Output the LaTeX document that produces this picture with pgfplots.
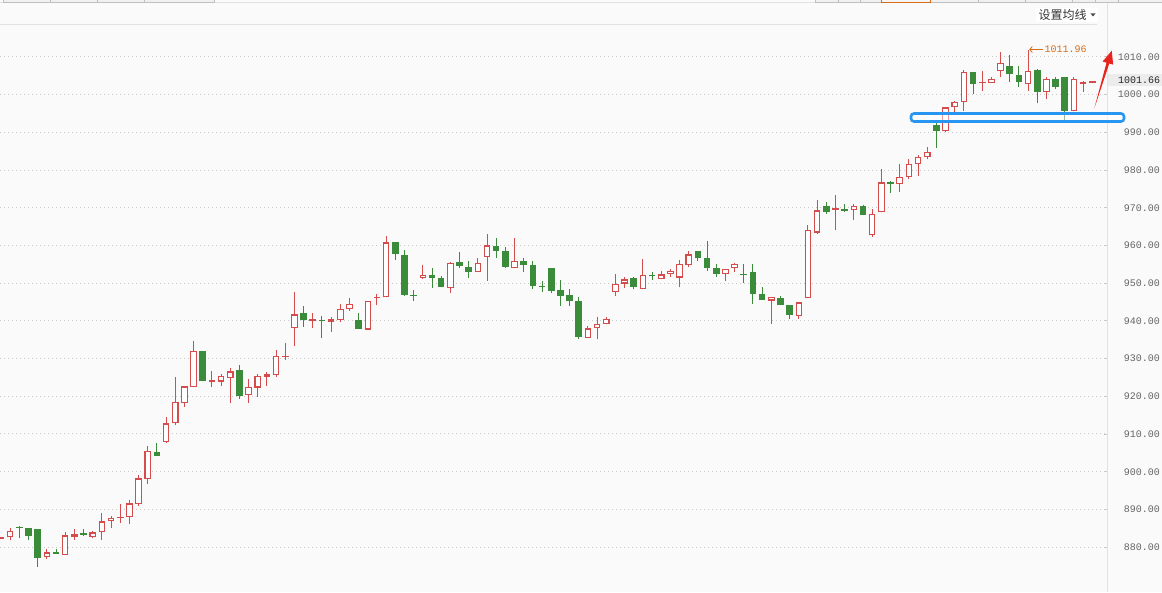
\documentclass[border=0pt]{standalone}
\usepackage{fontspec}
\setmonofont{Liberation Mono}
\newfontfamily\cjk{Noto Sans CJK SC}
\usepackage{pgfplots}
\pgfplotsset{compat=1.18}
\usepackage{pgfplotstable}
\usetikzlibrary{arrows.meta}

\definecolor{bgcol}{RGB}{250,250,250}
\definecolor{upred}{RGB}{212,76,76}
\definecolor{dngreen}{RGB}{58,140,58}
\definecolor{gridgray}{RGB}{200,200,200}
\definecolor{linegray}{RGB}{226,226,226}
\definecolor{labelgray}{RGB}{100,100,100}
\definecolor{annocol}{RGB}{214,108,24}
\definecolor{hiblue}{RGB}{40,150,240}
\definecolor{arrowred}{RGB}{232,36,30}
\definecolor{boxgray}{RGB}{236,236,236}

% rising candles: index, open, high, low, close
\pgfplotstableread{
i O H L C
0 882.2 882.6 882.2 882.6
1 882.6 885.1 881.8 884.4
5 877.3 879.4 876.9 878.6
7 878.0 883.9 878.0 883.1
8 882.8 884.8 881.9 883.4
10 882.7 884.3 882.3 883.9
11 883.9 889.0 881.9 886.8
12 886.8 888.2 885.1 887.7
13 887.6 891.4 886.4 888.0
14 887.9 892.5 886.2 891.6
15 891.5 899.0 891.0 898.2
16 898.1 906.8 896.8 905.4
18 907.9 914.4 907.7 912.8
19 912.8 925.1 912.5 918.6
20 918.3 922.6 917.2 922.6
21 922.5 934.6 922.5 932.0
23 923.9 926.7 922.5 924.3
24 923.9 925.9 922.7 925.5
25 924.9 927.5 918.3 926.6
27 920.4 924.6 918.3 922.4
28 922.3 925.8 919.9 925.3
29 925.2 926.4 922.7 925.8
30 925.7 932.3 925.2 930.6
31 930.3 934.1 929.6 930.7
32 938.0 947.6 933.4 941.7
34 939.9 942.0 938.0 940.4
36 939.8 940.9 937.1 940.4
37 940.2 944.4 939.8 943.1
38 943.1 946.0 942.7 944.4
40 937.7 945.4 937.7 945.2
41 946.0 947.1 944.1 946.4
42 946.2 962.5 946.2 960.8
46 951.4 954.8 951.0 952.1
49 948.6 955.6 947.5 955.3
52 952.9 956.7 952.9 955.3
53 957.0 963.0 950.6 960.0
56 953.9 962.0 953.9 955.8
64 935.4 938.7 935.4 938.0
65 938.0 941.0 935.1 939.1
66 939.1 940.9 939.1 940.4
67 947.6 952.3 946.7 949.9
68 949.9 951.7 948.7 951.0
70 948.4 956.4 948.4 952.1
72 951.0 953.1 951.0 952.3
73 952.3 953.8 951.7 953.2
74 951.5 956.1 948.9 955.0
75 954.7 958.5 954.2 957.6
79 952.3 953.8 950.6 953.8
80 953.9 955.3 953.0 955.0
84 945.4 946.3 939.2 946.3
87 941.3 944.9 940.6 944.9
88 946.0 965.3 946.0 964.0
89 963.4 972.0 963.0 969.3
91 969.4 973.4 964.1 969.8
93 969.3 971.0 966.7 970.4
95 962.7 969.6 962.3 968.3
96 968.8 980.2 968.8 976.7
98 976.2 981.5 974.2 978.1
99 978.1 982.8 977.5 981.6
100 981.5 983.9 978.5 983.5
101 983.5 986.0 982.8 984.7
103 990.3 996.6 990.0 996.6
104 996.6 998.3 995.5 998.0
105 998.0 1006.4 995.7 1006.0
107 1003.0 1006.3 1001.0 1003.4
108 1003.1 1004.6 1003.1 1004.1
109 1006.2 1011.3 1004.6 1008.3
112 1002.7 1011.96 1001.0 1006.3
114 1000.6 1004.7 998.9 1004.1
117 995.6 1004.6 995.6 1004.1
118 1002.7 1003.6 1000.8 1003.3
119 1003.2 1003.6 1003.2 1003.6
}\up

% falling candles
\pgfplotstableread{
i O H L C
2 885.3 885.5 882.3 884.95
3 885.0 885.2 881.8 883.0
4 884.8 884.8 874.8 877.2
6 878.7 879.4 878.2 878.2
9 883.7 884.7 882.9 883.3
17 905.2 907.7 904.2 904.2
22 932.0 932.0 924.0 924.0
26 927.0 928.3 919.3 920.1
33 942.0 943.9 938.4 940.3
35 940.3 941.3 935.5 939.95
39 940.1 942.0 937.9 937.9
43 960.9 960.9 956.2 957.6
44 957.4 958.8 946.7 946.9
45 946.95 948.1 945.3 946.6
47 952.1 954.0 948.8 951.4
48 951.3 951.8 948.9 948.9
50 955.6 958.3 954.1 954.6
51 954.4 955.9 951.5 953.0
54 959.8 962.0 956.7 958.6
55 958.5 959.5 954.1 954.3
57 955.8 956.8 953.0 954.9
58 954.8 955.9 948.5 949.2
59 949.3 950.5 947.7 948.95
60 954.0 954.0 947.5 948.0
61 948.2 950.8 944.0 946.7
62 946.8 948.4 944.0 945.3
63 945.3 946.3 935.3 935.8
69 951.4 951.7 948.4 949.0
71 952.15 952.9 950.9 951.8
76 958.5 958.5 955.8 956.6
77 956.8 961.2 953.3 954.1
78 953.9 955.0 951.7 952.5
81 952.45 955.0 950.1 952.1
82 952.9 955.0 944.5 947.2
83 947.1 949.0 945.6 945.6
85 946.1 946.5 944.3 944.3
86 944.2 944.2 940.6 941.6
90 970.4 971.5 968.4 968.8
92 969.6 971.1 969.0 969.25
94 970.4 970.6 968.0 968.2
97 976.8 977.2 974.0 976.4
102 991.9 992.8 985.9 990.4
106 1006.0 1006.0 1000.2 1002.9
110 1007.6 1010.6 1003.4 1005.4
111 1005.2 1007.7 1001.9 1003.3
113 1006.5 1006.7 997.7 1000.8
115 1004.1 1004.7 1001.6 1002.1
116 1004.6 1004.6 993.3 995.7
}\dn

\pgfplotsset{
  candle/.style 2 args={only marks, mark=*, mark size=0pt,
    mark options={draw=none, fill=none}, forget plot,
    error bars/.cd, y dir=plus, y explicit, error mark=none,
    error bar style={line width=#1, line cap=butt, color=#2}},
}

\begin{document}
\begin{tikzpicture}
\path[use as bounding box] (0,0) rectangle (1162pt,592pt);
\fill[bgcol] (0,0) rectangle (1162pt,592pt);

\begin{axis}[
  at={(0pt,0pt)}, anchor=south west,
  scale only axis, width=1106pt, height=567pt,
  xmin=-0.109, xmax=120.5,
  ymin=868.1, ymax=1018.46,
  axis line style={draw=none},
  xtick=\empty,
  ytick={880,890,...,1010},
  yticklabel pos=right, ytick pos=right,
  tick align=center, major tick length=4pt,
  tick style={gridgray, line width=0.8pt},
  ymajorgrids,
  grid style={gridgray, line width=1pt, dash pattern=on 1pt off 3pt},
  yticklabel style={anchor=east, xshift=52pt, inner sep=0pt, text=labelgray,
    font=\ttfamily\fontsize{10}{12}\selectfont,
    /pgf/number format/.cd, fixed, fixed zerofill, precision=2,
    1000 sep={}, assume math mode=true},
]
% rising: wick, body, hollow inside
\addplot[candle={1pt}{upred}] table[x=i, y=L, y error plus expr=\thisrow{H}-\thisrow{L}] {\up};
\addplot[candle={6.6pt}{upred}] table[x=i, y=O, y error plus expr=\thisrow{C}-\thisrow{O}] {\up};
\addplot[candle={4.4pt}{white}] table[x=i, y expr=\thisrow{O}+0.3, y error plus expr={max(\thisrow{C}-\thisrow{O}-0.6,0)}] {\up};
% falling: wick, filled body
\addplot[candle={1pt}{dngreen}] table[x=i, y=L, y error plus expr=\thisrow{H}-\thisrow{L}] {\dn};
\addplot[candle={6.6pt}{dngreen}] table[x=i, y=C, y error plus expr=\thisrow{O}-\thisrow{C}] {\dn};

\draw[annocol, line width=0.8pt, {Straight Barb[length=2.5pt,width=6pt]}-]
  ([xshift=1.2pt]axis cs:112,1011.96) -- ++(14pt,0pt)
  node[anchor=west, inner sep=1pt, font=\ttfamily\fontsize{10}{12}\selectfont, text=annocol] {1011.96};
\end{axis}

% frame of the panel
\draw[linegray, line width=1pt] (0,589pt) -- (1162pt,589pt);
\draw[linegray, line width=1pt] (0,567pt) -- (1097pt,567pt);
\draw[linegray, line width=1pt] (1107pt,0) -- (1107pt,589pt);
\foreach \a/\b in {3/50,50/97,97/144,144/214,815/838,838/860,860/881,930/978,978/1025,1025/1072,1072/1095,1095/1118,1118/1162}
  \draw[black!25, fill=black!6, line width=0.8pt] (\a pt,590pt) rectangle (\b pt,594pt);
\draw[annocol, fill=black!4, line width=0.8pt] (881pt,590pt) rectangle (930pt,594pt);

% moving-average menu
\fill[white] (1036pt,570pt) rectangle (1098pt,584pt);
\node[anchor=west, inner sep=0pt, font=\cjk\fontsize{12}{12}\selectfont, text=black!80] at (1038.5pt,577pt) {设置均线};
\fill[black!70] (1090.5pt,578.5pt) -- (1095.5pt,578.5pt) -- (1093pt,575.5pt) -- cycle;

% last price box
\node[anchor=west, fill=boxgray, minimum width=54pt, minimum height=12pt, inner sep=0pt,
  text width=50pt, align=right, font=\ttfamily\fontsize{10}{12}\selectfont, text=black!85]
  at (1108pt,512pt) {1001.66};

% highlight and arrow
\draw[hiblue, line width=2.6pt, rounded corners=3pt, fill=white, fill opacity=0.45]
  (911pt,470.5pt) rectangle (1124pt,478.5pt);
\fill[arrowred] (1094.3pt,483.7pt) -- (1106.5pt,529.3pt) -- (1102.6pt,530.5pt)
  -- (1111.7pt,541.3pt) -- (1113.2pt,527.3pt) -- (1109.3pt,528.5pt) -- cycle;
\end{tikzpicture}
\end{document}
